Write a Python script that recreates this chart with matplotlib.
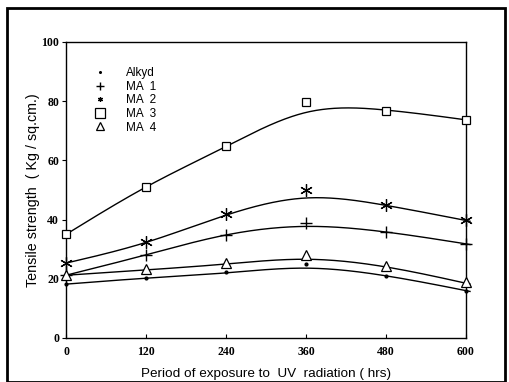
import numpy as np
import matplotlib
matplotlib.use("Agg")
import matplotlib.pyplot as plt
from matplotlib.lines import Line2D
from matplotlib.patches import Rectangle

hours = [0, 120, 240, 360, 480, 600]
xtick_labels = ["0", "120", "240", "360", "480", "600"]
yticks = [0, 20, 40, 60, 80, 100]

# measured points
alkyd = [18.3, 20.4, 22.2, 25.1, 21.0, 16.0]
ma1 = [21.4, 28.1, 34.8, 38.9, 35.8, 31.8]
ma2 = [25.3, 32.3, 41.9, 49.9, 44.8, 39.7]
ma3 = [35.1, 51.0, 64.7, 79.8, 76.8, 73.7]
ma4 = [21.4, 23.4, 25.3, 28.1, 24.2, 18.8]

# fitted (smoothed) curve values read at the same hours
alkyd_fit = [18.2, 20.2, 22.0, 23.6, 21.0, 16.0]
ma1_fit = [21.2, 28.1, 34.8, 37.7, 35.8, 31.8]
ma2_fit = [25.3, 32.3, 41.5, 47.3, 44.8, 39.7]
ma3_fit = [35.0, 51.0, 64.7, 76.2, 77.0, 73.7]
ma4_fit = [21.2, 23.0, 25.0, 26.6, 24.0, 18.5]

names = ["Alkyd", "MA  1", "MA  2", "MA  3", "MA  4"]


def natural_spline(xk, yk, xq):
    xk = np.asarray(xk, float)
    yk = np.asarray(yk, float)
    n = len(xk)
    h = np.diff(xk)
    A = np.zeros((n, n))
    b = np.zeros(n)
    A[0, 0] = 1
    A[-1, -1] = 1
    for i in range(1, n - 1):
        A[i, i - 1] = h[i - 1]
        A[i, i] = 2 * (h[i - 1] + h[i])
        A[i, i + 1] = h[i]
        b[i] = 6 * ((yk[i + 1] - yk[i]) / h[i] - (yk[i] - yk[i - 1]) / h[i - 1])
    M = np.linalg.solve(A, b)
    idx = np.clip(np.searchsorted(xk, xq) - 1, 0, n - 2)
    x0 = xk[idx]
    x1 = xk[idx + 1]
    hh = x1 - x0
    t0 = x1 - xq
    t1 = xq - x0
    return (M[idx] * t0 ** 3 / (6 * hh) + M[idx + 1] * t1 ** 3 / (6 * hh)
            + (yk[idx] / hh - M[idx] * hh / 6) * t0
            + (yk[idx + 1] / hh - M[idx + 1] * hh / 6) * t1)


fig = plt.figure(figsize=(5.09, 3.82), dpi=100)
ax = fig.add_axes([66/509, 44/382, 400/509, 296/382])

serif = "Liberation Serif"
sans = "Liberation Sans"

styles = [
    dict(marker="o", ms=2.0, mfc="black", mec="black"),
    dict(marker="+", ms=8, mew=1.0, mec="black"),
    dict(marker=(6, 2, 0), ms=9, mew=0.9, mec="black"),
    dict(marker="s", ms=6, mfc="white", mec="black", mew=0.9),
    dict(marker="^", ms=6.5, mfc="white", mec="black", mew=0.9),
]
series = [alkyd, ma1, ma2, ma3, ma4]
fits = [alkyd_fit, ma1_fit, ma2_fit, ma3_fit, ma4_fit]
x = np.array(hours, dtype=float)
xs = np.linspace(0, 606, 400)
for vals, fit, st in zip(series, fits, styles):
    ax.plot(xs, natural_spline(x, fit, xs), color="black", lw=1.0, clip_on=False, zorder=2)
    ax.plot(x, vals, linestyle="none", clip_on=False, zorder=3, **st)

ax.set_xlim(0, 600)
ax.set_ylim(0, 100)
ax.set_xticks(hours)
ax.set_xticklabels(xtick_labels)
ax.set_yticks(yticks)
ax.tick_params(axis="x", direction="in", length=3, pad=6)
ax.tick_params(axis="y", direction="out", length=3, pad=2)
for lab in ax.get_xticklabels() + ax.get_yticklabels():
    lab.set_fontfamily(serif)
    lab.set_fontweight("bold")
    lab.set_fontsize(8.5)
for sp in ax.spines.values():
    sp.set_linewidth(1.0)

ax.set_xlabel("Period of exposure to  UV  radiation ( hrs)", fontfamily=sans, fontsize=9.7, labelpad=7)
ax.set_ylabel("Tensile strength  ( Kg / sq.cm.)", fontfamily=sans, fontsize=10.3, labelpad=1)

handles = []
leg_styles = [
    dict(marker="o", ms=1.2, mfc="black", mec="black"),
    dict(marker="+", ms=6, mew=1.0, mec="black"),
    dict(marker=(6, 2, 0), ms=3.5, mew=0.9, mec="black"),
    dict(marker="s", ms=7, mfc="white", mec="black", mew=0.9),
    dict(marker="^", ms=5.5, mfc="white", mec="black", mew=0.9),
]
for st in leg_styles:
    handles.append(Line2D([], [], linestyle="none", **st))
leg = ax.legend(handles, names, loc="upper left", bbox_to_anchor=(0.043, 0.95),
                frameon=False, handlelength=1.0, handletextpad=1.75,
                labelspacing=0.13, borderaxespad=0.5,
                prop=dict(family=sans, size=8.5))

fig.patches.append(Rectangle((7/509, 0), 498/509, 374/382, transform=fig.transFigure,
                             fill=False, edgecolor="black", lw=2.0))

fig.savefig("out.png", dpi=100)
